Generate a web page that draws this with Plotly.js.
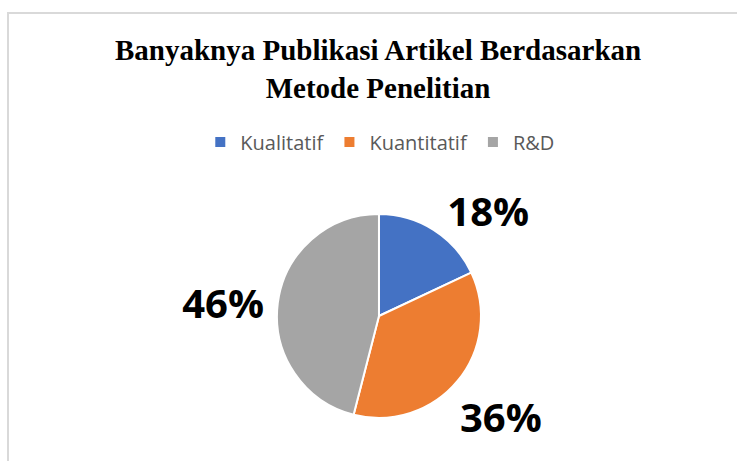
<!DOCTYPE html>
<html>
<head>
<meta charset="utf-8">
<script src="https://cdn.plot.ly/plotly-3.0.1.min.js"></script>
<style>
  html, body { margin: 0; padding: 0; background: #fff; }
  #wrap { position: relative; width: 737px; height: 461px; overflow: hidden; }
  #chart { position: absolute; left: 0; top: 0; width: 737px; height: 461px; }
  #frame { position: absolute; left: 7px; top: 12px; width: 800px; height: 500px;
           border-left: 2px solid #d9d9d9; border-top: 2px solid #d9d9d9; pointer-events: none; }
</style>
</head>
<body>
<div id="wrap">
  <div id="chart"></div>
  <div id="frame"></div>
</div>
<script>
const categories = ["Kualitatif", "Kuantitatif", "R&D"];
const values = [18, 36, 46];
const colors = ["#4472C4", "#ED7D31", "#A5A5A5"];
const titleText = "<b>Banyaknya Publikasi Artikel Berdasarkan<br>Metode Penelitian</b>";

const W = 737, H = 461;
const domX = [0.3758, 0.6526], domY = [0.0933, 0.5358];
const labelFont = { family: "Open Sans, Liberation Sans, sans-serif", size: 40, color: "#000000", weight: "bold" };

// slice 2 label placed as annotation along its mid-angle (Excel-like placement)
const total = values.reduce((a, b) => a + b, 0);
const cxPx = (domX[0] + domX[1]) / 2 * W;
const cyPx = (1 - (domY[0] + domY[1]) / 2) * H;
const Rpx = (domX[1] - domX[0]) * W / 2;
const annotations = [];
const textpos = [];
let cum = 0;
values.forEach((v, i) => {
  const mid = (cum + v / 2) / total * 2 * Math.PI;
  cum += v;
  if (i === 1) {
    textpos.push("none");
    const r = Rpx * 1.55;
    const px = cxPx + r * Math.sin(mid);
    const py = cyPx - r * Math.cos(mid);
    annotations.push({
      text: Math.round(v / total * 100) + "%",
      x: px / W, y: 1 - py / H, xref: "paper", yref: "paper",
      xanchor: "center", yanchor: "middle", showarrow: false,
      font: labelFont
    });
  } else {
    textpos.push("outside");
  }
});

const trace = {
  type: "pie",
  labels: categories,
  values: values,
  sort: false,
  direction: "clockwise",
  rotation: 0,
  marker: { colors: colors, line: { color: "#ffffff", width: 2 } },
  textinfo: "percent",
  texttemplate: "%{percent:.0%}",
  textposition: textpos,
  automargin: false,
  outsidetextfont: labelFont,
  domain: { x: domX, y: domY },
  hoverinfo: "label+percent"
};

const layout = {
  width: W,
  height: H,
  margin: { l: 0, r: 0, t: 0, b: 0 },
  paper_bgcolor: "#ffffff",
  showlegend: true,
  annotations: annotations,
  title: {
    text: titleText,
    font: { family: "Liberation Serif, Times New Roman, serif", size: 29, color: "#000000" },
    x: 0.513,
    xanchor: "center",
    y: 0.87,
    yanchor: "top"
  },
  legend: {
    orientation: "h",
    x: 0.516,
    xanchor: "center",
    y: 0.692,
    yanchor: "middle",
    font: { family: "Open Sans, Liberation Sans, sans-serif", size: 20, color: "#595959" },
    itemclick: false,
    traceorder: "normal"
  }
};

Plotly.newPlot("chart", [trace], layout, { displayModeBar: false, staticPlot: true });
</script>
</body>
</html>
